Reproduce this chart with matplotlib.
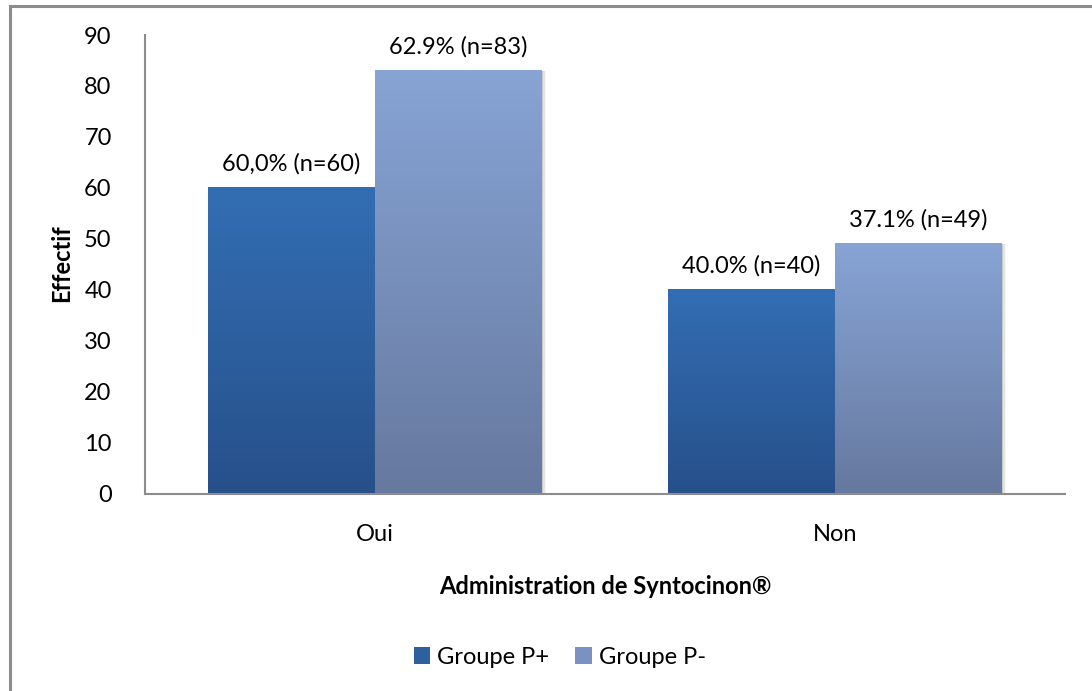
import matplotlib
matplotlib.use("Agg")
import matplotlib.pyplot as plt
import numpy as np
from matplotlib.colors import LinearSegmentedColormap
from matplotlib.patches import Rectangle, Patch

plt.rcParams['font.family'] = ['Lato', 'DejaVu Sans']

# data
categories = ["Oui", "Non"]
groupe_p_plus = [60, 40]
groupe_p_minus = [83, 49]
labels_p_plus = ["60,0% (n=60)", "40.0% (n=40)"]
labels_p_minus = ["62.9% (n=83)", "37.1% (n=49)"]
series_names = ["Groupe P+", "Groupe P-"]

fig = plt.figure(figsize=(10.92, 6.91), dpi=100)
W, H = 1092, 691
ax = fig.add_axes([145 / W, 1 - 493.5 / H, (1065 - 145) / W, (493.5 - 35) / H])

# outer chart frame (only left/top visible in crop)
fig.patches.append(Rectangle((10 / W, -0.05), 1.1, 1 - 6 / H + 0.05, transform=fig.transFigure,
                             fill=False, edgecolor="#8c8c8c", linewidth=2.2))

x = np.arange(len(categories))
w = 0.363
cmap_plus = LinearSegmentedColormap.from_list("pp", ["#27508a", "#336eb4"])
cmap_minus = LinearSegmentedColormap.from_list("pm", ["#66799f", "#87a4d5"])

grad = np.linspace(0, 1, 256).reshape(-1, 1)

def gradient_bars(xs, vals, cmap):
    bars = ax.bar(xs, vals, w, color="none", edgecolor="none", zorder=3)
    for b in bars:
        x0, y0 = b.get_x(), b.get_y()
        bw, bh = b.get_width(), b.get_height()
        # soft shadow on the right side
        for k, a in enumerate([0.12, 0.07, 0.035]):
            ax.add_patch(Rectangle((x0 + 0.003 * (k + 1), y0), bw, bh,
                                   facecolor="black", alpha=a, edgecolor="none", zorder=2))
        ax.imshow(grad, extent=[x0, x0 + bw, y0, y0 + bh], origin="lower", cmap=cmap,
                  aspect="auto", zorder=4)
    return bars

gradient_bars(x - w / 2, groupe_p_plus, cmap_plus)
gradient_bars(x + w / 2, groupe_p_minus, cmap_minus)

fs = 17
for i in range(len(categories)):
    ax.text(x[i] - w / 2, groupe_p_plus[i] + 2.6, labels_p_plus[i], ha="center", va="bottom", fontsize=fs)
    ax.text(x[i] + w / 2, groupe_p_minus[i] + 2.6, labels_p_minus[i], ha="center", va="bottom", fontsize=fs)

ax.set_xlim(-0.5, 1.5)
ax.set_ylim(0, 90)
ax.set_yticks(range(0, 91, 10))
ax.set_xticks(x)
ax.set_xticklabels(categories)
ax.tick_params(axis="both", length=0, labelsize=fs)
ax.tick_params(axis="y", pad=24)
ax.tick_params(axis="x", pad=22)
for s in ["top", "right"]:
    ax.spines[s].set_visible(False)
for s in ["left", "bottom"]:
    ax.spines[s].set_color("#8c8c8c")
    ax.spines[s].set_linewidth(1.5)
    ax.spines[s].set_zorder(5)
ax.patch.set_visible(False)

fig.text(62 / W, 1 - 263 / H, "Effectif", rotation=90, ha="center", va="center",
         fontsize=fs, fontweight="bold")
fig.text(605 / W, 1 - 587 / H, "Administration de Syntocinon®", ha="center", va="center",
         fontsize=fs, fontweight="bold")

handles = [Patch(facecolor="#2e5f9e", edgecolor="none"), Patch(facecolor="#7a92bf", edgecolor="none")]
fig.legend(handles, series_names, loc="center", bbox_to_anchor=(560 / W, 1 - 657 / H), ncol=2,
           frameon=False, fontsize=fs, handlelength=0.7, handleheight=0.7, handletextpad=0.3,
           columnspacing=1.1)

fig.savefig("out.png", dpi=100)
